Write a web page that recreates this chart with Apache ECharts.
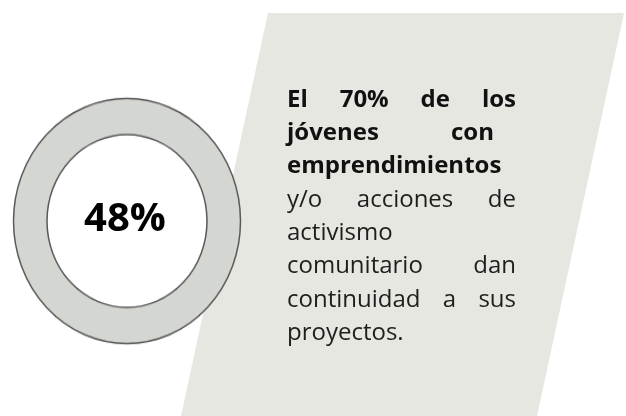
<!DOCTYPE html>
<html>
<head>
<meta charset="utf-8">
<script src="https://cdn.jsdelivr.net/npm/echarts@6/dist/echarts.min.js"></script>
<style>
  html, body { margin: 0; padding: 0; background: #fff; }
  #main { position: absolute; left: 0; top: 0; width: 626px; height: 416px; }
  /* ring is an ellipse in the original, stretch the pie a bit */
  #ring { position: absolute; left: 0; top: 93.5px; width: 254px; height: 254px;
          transform: scaleY(1.08); transform-origin: 50% 50%; }
</style>
</head>
<body>
<div id="main"></div>
<div id="ring"></div>
<script>
// Values
var ringValue = [48];
var ringNames = ['jóvenes'];

// Paragraph lines (bold flag, justify flag)
var textLines = ['El 70% de los', 'jóvenes con', 'emprendimientos', 'y/o acciones de',
                 'activismo', 'comunitario dan', 'continuidad a sus', 'proyectos.'];
var textBold = [true, true, true, false, false, false, false, false];
var textJustify = [true, true, false, true, false, true, true, false];

var mainChart = echarts.init(document.getElementById('main'));
var ringChart = echarts.init(document.getElementById('ring'));

var FONT = '"Open Sans"';
var measureCtx = document.createElement('canvas').getContext('2d');

function buildParagraph() {
  var left = 287;
  var right = 516;
  var firstBase = 108.5;
  var lineH = 33.3;
  var els = [];
  for (var i = 0; i < textLines.length; i++) {
    var font = (textBold[i] ? 'bold ' : 'normal ') + '24px ' + FONT;
    measureCtx.font = font;
    var words = textLines[i].split(' ');
    var widths = words.map(function (w) { return measureCtx.measureText(w).width; });
    var total = widths.reduce(function (a, b) { return a + b; }, 0);
    var lineRight = (i === 1) ? 494 : right;
    var gap = measureCtx.measureText(' ').width;
    if (textJustify[i] && words.length > 1) {
      gap = (lineRight - left - total) / (words.length - 1);
    }
    var x = left;
    for (var k = 0; k < words.length; k++) {
      els.push({
        type: 'text',
        x: x,
        y: firstBase + i * lineH - 8.5,
        z: 10,
        style: {
          text: words[k],
          font: font,
          fill: textBold[i] ? '#111111' : '#1e1e1e',
          textAlign: 'left',
          textVerticalAlign: 'middle',
          align: 'left',
          verticalAlign: 'middle'
        }
      });
      x += widths[k] + gap;
    }
  }
  return els;
}

var graphics = [
  {
    type: 'polygon',
    z: 1,
    shape: { points: [[268, 13], [624, 13], [537, 416], [181, 416]] },
    style: { fill: '#e5e7e0' }
  },
  {
    type: 'text',
    x: 125,
    y: 220,
    z: 10,
    style: {
      text: ringValue[0] + '%',
      font: 'bold 40px ' + FONT,
      fill: '#000000',
      textAlign: 'center',
      textVerticalAlign: 'middle',
      align: 'center',
      verticalAlign: 'middle'
    }
  }
].concat(buildParagraph());

mainChart.setOption({
  backgroundColor: 'transparent',
  animation: false,
  graphic: graphics
});

ringChart.setOption({
  backgroundColor: 'transparent',
  animation: false,
  series: [
    {
      type: 'pie',
      center: ['50%', '50%'],
      radius: [80, 113.5],
      silent: true,
      label: { show: false },
      labelLine: { show: false },
      itemStyle: { color: '#d4d6d1', borderColor: '#595959', borderWidth: 1.5 },
      data: ringNames.map(function (n, i) { return { name: n, value: ringValue[i] }; })
    }
  ]
});
</script>
</body>
</html>
